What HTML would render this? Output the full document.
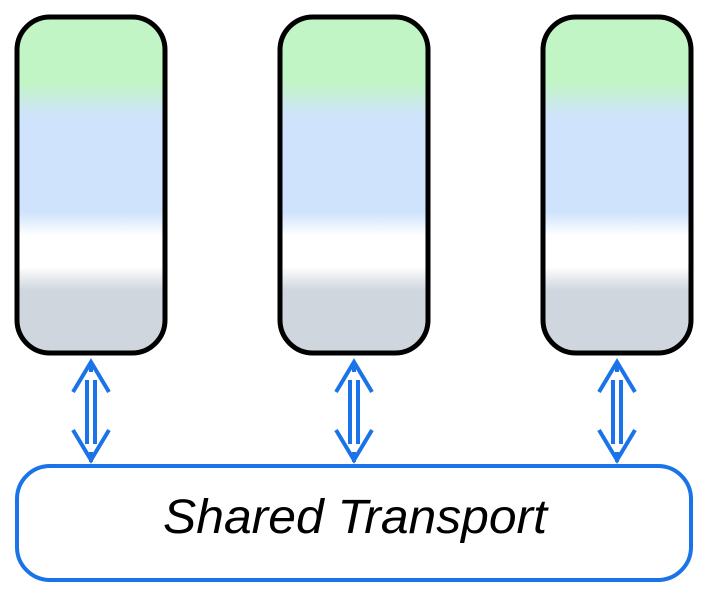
<!DOCTYPE html>
<html><head><meta charset="utf-8"><style>html,body{margin:0;padding:0;background:#fff}</style></head>
<body>
<svg width="713" height="598" viewBox="0 0 713 598" xmlns="http://www.w3.org/2000/svg">
<defs>
<linearGradient id="g" x1="0" y1="15" x2="0" y2="355" gradientUnits="userSpaceOnUse">
<stop offset="0" stop-color="#c2f5c6"/>
<stop offset="0.2" stop-color="#c2f5c6"/>
<stop offset="0.3" stop-color="#cfe3fd"/>
<stop offset="0.58" stop-color="#cfe3fd"/>
<stop offset="0.65" stop-color="#ffffff"/>
<stop offset="0.74" stop-color="#ffffff"/>
<stop offset="0.81" stop-color="#cfd6de"/>
<stop offset="1" stop-color="#cfd6de"/>
</linearGradient>
<g id="arr" fill="none" stroke="#1a73e8" stroke-width="4">
<polyline points="-18,392 0,362 18,392"/>
<polyline points="-18,430 0,460 18,430"/>
<line x1="-4" y1="380" x2="-4" y2="444"/>
<line x1="4" y1="380" x2="4" y2="444"/>
<line x1="0" y1="362" x2="0" y2="372"/>
<line x1="0" y1="452" x2="0" y2="462"/>
</g>
</defs>
<rect x="17" y="17" width="148" height="336" rx="33" fill="url(#g)" stroke="#000" stroke-width="5"/>
<rect x="280" y="17" width="148" height="336" rx="33" fill="url(#g)" stroke="#000" stroke-width="5"/>
<rect x="543" y="17" width="148" height="336" rx="33" fill="url(#g)" stroke="#000" stroke-width="5"/>
<use href="#arr" x="91"/>
<use href="#arr" x="354"/>
<use href="#arr" x="617"/>
<rect x="17" y="466" width="674" height="114" rx="33" fill="#fff" stroke="#1a73e8" stroke-width="4"/>
<text x="355" y="533" text-anchor="middle" font-family="Liberation Sans, sans-serif" font-style="italic" font-size="48" textLength="384" lengthAdjust="spacingAndGlyphs">Shared Transport</text>
</svg>
</body></html>
